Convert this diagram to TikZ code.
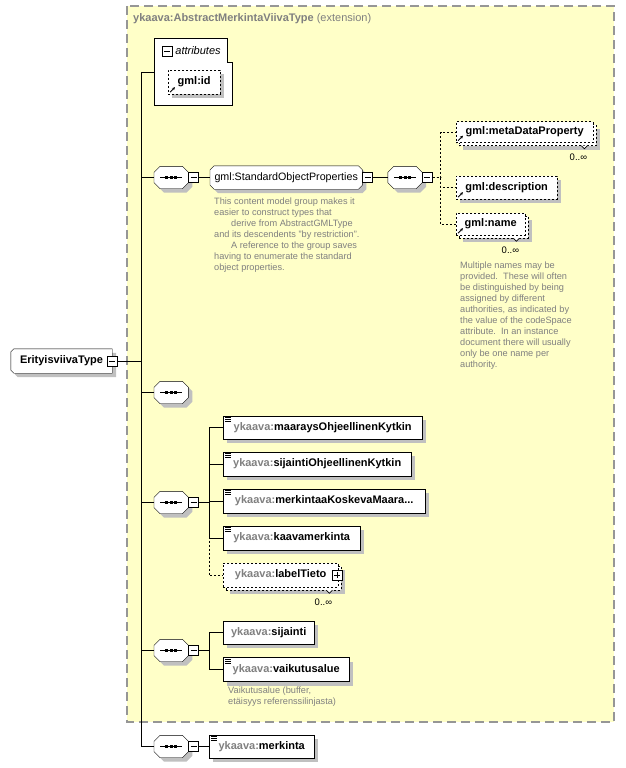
\documentclass[tikz,border=0pt]{standalone}
\usepackage{fontspec}
\setmainfont{Liberation Sans}
\usepackage{tikz}
\usetikzlibrary{positioning,shadows,arrows.meta}
\definecolor{boxyellow}{RGB}{255,255,200}
\definecolor{framegray}{RGB}{150,150,150}
\definecolor{pfxgray}{RGB}{128,128,128}
\definecolor{notegray}{RGB}{128,128,128}
\definecolor{shadowgray}{RGB}{192,192,192}
\pgfdeclarelayer{back}
\pgfdeclarelayer{shapes}
\pgfsetlayers{back,shapes,main}
\newcommand\yk[1]{\textcolor{pfxgray}{ykaava:}#1}
\tikzset{
  boxshadow/.style={drop shadow={shadow xshift=4pt,shadow yshift=-4pt,opacity=1,fill=shadowgray}},
  elbox/.style={draw,fill=white,font=\fontsize{11}{13}\selectfont\bfseries,
    minimum height=23,inner sep=0,anchor=west},
  elem/.style={elbox,boxshadow},
  refline/.style={dash pattern=on 2pt off 2pt},
  multi/.style={elbox,drop shadow={shadow xshift=7pt,shadow yshift=-7pt,opacity=1,fill=shadowgray},
    copy shadow={shadow xshift=3pt,shadow yshift=-3pt}},
  seqbox/.style={minimum width=34,minimum height=22,inner sep=0,anchor=west,
    path picture={
      \draw[line width=1.2pt] ([xshift=6pt]path picture bounding box.west) -- ([xshift=-6pt]path picture bounding box.east);
      \foreach \dx in {-4.5,0,4.5}
        \fill ([shift={(\dx-1.5,-1.5)}]path picture bounding box.center) rectangle ++(3,3);
    }},
  grpbox/.style={font=\fontsize{10.7}{13}\selectfont,minimum height=23,inner sep=0,anchor=west},
  minusbox/.style={draw,fill=white,minimum size=10,inner sep=0,
    path picture={\draw ([xshift=2pt]path picture bounding box.west) -- ([xshift=-2pt]path picture bounding box.east);}},
  plusbox/.style={draw,fill=white,minimum size=10,inner sep=0,
    path picture={
      \draw ([xshift=2pt]path picture bounding box.west) -- ([xshift=-2pt]path picture bounding box.east);
      \draw ([yshift=2pt]path picture bounding box.south) -- ([yshift=-2pt]path picture bounding box.north);}},
  note/.style={text=notegray,font=\fontsize{9.2}{11}\selectfont,align=left,anchor=north west,inner sep=0},
  occ/.style={font=\fontsize{9.5}{11}\selectfont,inner sep=0}
}
\begin{document}
\begin{tikzpicture}[x=1pt,y=-1pt,line width=1pt]
\begin{pgfonlayer}{back}
\fill[white] (0,0) rectangle (625,768);
%%%%% Extension frame %%%%%
\draw[draw=framegray,fill=boxyellow,line width=1.3pt,dash pattern=on 9pt off 5pt] (127,6) rectangle (614,722);
\end{pgfonlayer}
\useasboundingbox (0,0) rectangle (625,768);
\node[anchor=west,inner sep=0,text=pfxgray,font=\fontsize{11}{13}\selectfont] (title) at (133,19)
  {\textbf{ykaava:AbstractMerkintaViivaType} (extension)};
%%%%% Attributes %%%%%
\draw[fill=white] (154,38) -| (227,62) -| (232,105) -| cycle;
\node[minusbox] (am) at (167,51) {};
\node[anchor=west,inner sep=0,font=\fontsize{11}{13}\selectfont\itshape,right=3pt of am] (atitle) {attributes};
\node[elem,refline,minimum width=52,minimum height=24] (gmlid) at (168,82) {gml:id};
\coordinate (attrin) at (154,72);
%%%%% Root and spine %%%%%
\node[font=\fontsize{11}{13}\selectfont\bfseries,minimum width=101,minimum height=24,inner sep=0]
  (root) at (61.5,361) {ErityisviivaType};
\node[minusbox] (rm) at (root.east) {};
\coordinate (sptop) at (141,72);
\coordinate (spbot) at (141,746.5);
\draw (sptop) -- (spbot);
\draw (sptop) -- (attrin);
\draw (rm.east) -- (rm.east -| sptop);
%%%%% Sequences %%%%%
\node[seqbox] (seq1) at (154,177.5) {};
\node[seqbox] (seq3) at (154,392.5) {};
\node[seqbox] (seq4) at (154,502.5) {};
\node[seqbox] (seq5) at (154,650.5) {};
\node[seqbox] (seq6) at (154,746.5) {};
\foreach \s in {1,4,5,6}
  \node[minusbox,anchor=west] (m\s) at (seq\s.east) {};
\foreach \s in {seq1,seq3,seq4,seq5,seq6}
  \draw (\s.west) -- (\s.west -| sptop);
%%%%% gml:StandardObjectProperties %%%%%
\node[grpbox,minimum width=152] (grp) at (210,177.5) {gml:StandardObjectProperties};
\node[minusbox,anchor=west] (gm) at (grp.east) {};
\node[seqbox,right=15pt of gm] (seq2) {};
\node[minusbox,anchor=west] (m2) at (seq2.east) {};
\draw (m1.east) -- (grp.west);
\draw (gm.east) -- (seq2.west);
\node[note] (grpnote) at (214,197.5) {This content model group makes it\\
easier to construct types that\\
\hspace*{17pt}derive from AbstractGMLType\\
and its descendents "by restriction".\\
\hspace*{17pt}A reference to the group saves\\
having to enumerate the standard\\
object properties.};
\node[multi,refline,minimum width=137,minimum height=21] (meta) at (456,132) {gml:metaDataProperty};
\node[elem,refline,minimum width=101] (desc) at (456,187.5) {gml:description};
\node[multi,refline,minimum width=69,minimum height=22] (name) at (456,224) {gml:name};
\foreach \e in {meta,desc,name}
  \draw[refline] (m2.east) -- ++(8,0) |- (\e.west);
\node[note] (namenote) at (460,261.5) {Multiple names may be\\
provided.\ \ These will often\\
be distinguished by being\\
assigned by different\\
authorities, as indicated by\\
the value of the codeSpace\\
attribute.\ \ In an instance\\
document there will usually\\
only be one name per\\
authority.};
%%%%% Elements %%%%%
\node[elem,minimum width=199] (maarays) at (223,427.5) {\yk{maaraysOhjeellinenKytkin}};
\node[elem,minimum width=188,minimum height=24] (sijohj) at (223,464) {\yk{sijaintiOhjeellinenKytkin}};
\node[elem,minimum width=202,minimum height=24] (merkk) at (223,501) {\yk{merkintaaKoskevaMaara...}};
\node[elem,minimum width=137,minimum height=24] (kaava) at (223,538) {\yk{kaavamerkinta}};
\node[multi,refline,minimum width=115,minimum height=24] (label) at (223,575)
  {\yk{labelTieto}\hspace{13pt}};
\node[plusbox] (lp) at ([xshift=-1pt]label.east) {};
\foreach \e in {maarays,sijohj,merkk,kaava}
  \draw (m4.east) -- ++(10,0) |- (\e.west);
\draw[refline] (m4.east) -- ++(10,0) |- (label.west);
\node[elem,minimum width=91] (sijainti) at (223,632.5) {\yk{sijainti}};
\node[elem,minimum width=126,minimum height=24] (vaik) at (223,669.5) {\yk{vaikutusalue}};
\foreach \e in {sijainti,vaik}
  \draw (m5.east) -- ++(10,0) |- (\e.west);
\node[note] (vaiknote) at (228,687) {Vaikutusalue (buffer,\\etäisyys referenssilinjasta)};
\node[elem,minimum width=105] (merkinta) at (209,746.5) {\yk{merkinta}};
\draw (m6.east) -- (merkinta.west);
%%%%% Chamfered outlines %%%%%
\begin{pgfonlayer}{shapes}
\foreach \nn/\cl/\cr in {root/3/0,grp/4/4,seq1/6/6,seq2/6/6,seq3/6/6,seq4/6/6,seq5/6/6,seq6/6/6}{
  \fill[shadowgray] ([shift={(\cl+4,4)}]\nn.north west) -- ([shift={(-\cr+4,4)}]\nn.north east)
    -- ([shift={(4,\cr+4)}]\nn.north east) -- ([shift={(4,-\cr+4)}]\nn.south east)
    -- ([shift={(-\cr+4,4)}]\nn.south east) -- ([shift={(\cl+4,4)}]\nn.south west)
    -- ([shift={(4,-\cl+4)}]\nn.south west) -- ([shift={(4,\cl+4)}]\nn.north west) -- cycle;
  \draw[fill=white] ([shift={(\cl,0)}]\nn.north west) -- ([shift={(-\cr,0)}]\nn.north east)
    -- ([shift={(0,\cr)}]\nn.north east) -- ([shift={(0,-\cr)}]\nn.south east)
    -- ([shift={(-\cr,0)}]\nn.south east) -- ([shift={(\cl,0)}]\nn.south west)
    -- ([shift={(0,-\cl)}]\nn.south west) -- ([shift={(0,\cl)}]\nn.north west) -- cycle;
}
\end{pgfonlayer}
%%%%% Markers %%%%%
\foreach \n in {maarays,sijohj,merkk,kaava,vaik,merkinta}
  \foreach \dy in {2,4,6}
    \draw[line width=0.8pt] ([shift={(2,\dy)}]\n.north west) -- ++(6,0);
\foreach \n in {gmlid,meta,desc,name}
  \draw[line width=0.8pt,-{Stealth[length=3pt,width=3pt]}] ([shift={(2,-2)}]\n.south west) -- ++(5,-5);
\foreach \n in {meta,name,label}{
  \draw[line width=0.7pt,fill=white] ([shift={(-12,3)}]\n.south east) -- ++(3,3) -- ++(3,-3);
  \node[occ] at ([shift={(-15,15)}]\n.south east) {0..∞};
}
\end{tikzpicture}
\end{document}
